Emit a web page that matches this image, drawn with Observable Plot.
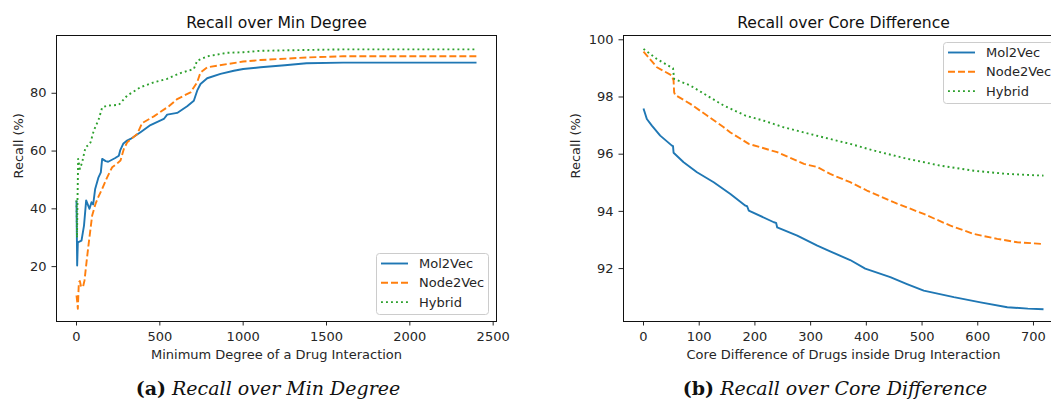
<!DOCTYPE html>
<html>
<head>
<meta charset="utf-8">
<script src="https://cdn.jsdelivr.net/npm/d3@7"></script>
<script src="https://cdn.jsdelivr.net/npm/@observablehq/plot@0.6"></script>
<style>
  html, body { margin: 0; padding: 0; background: #fff; }
  #fig { position: relative; width: 1051px; height: 403px; overflow: hidden; background: #fff; }
  .panel { position: absolute; top: 0; width: 510px; height: 365px; }
  .panel svg { max-width: none !important; }
  .legend { position: absolute; }
  .caption { position: absolute; font-family: "DejaVu Serif", serif; font-size: 19px; color: #111; white-space: nowrap; transform: translateX(-50%); line-height: 1; }
  .caption b { font-weight: bold; }
  .caption i { font-style: italic; }
</style>
</head>
<body>
<div id="fig"></div>
<script>
// ---------- Data ----------
const seriesNames = ["Mol2Vec", "Node2Vec", "Hybrid"];
const seriesColors = ["#1f77b4", "#ff7f0e", "#2ca02c"];

// Panel (a): Recall over Min Degree
const titleA = "Recall over Min Degree";
const xLabelA = "Minimum Degree of a Drug Interaction";
const yLabel = "Recall (%)";
const xTicksA = [0, 500, 1000, 1500, 2000, 2500];
const yTicksA = [20, 40, 60, 80];

const degreeMol2Vec = [0, 4, 8, 30, 45, 58, 78, 90, 100, 112, 132, 146, 154, 175, 190, 230, 254, 262, 280, 300, 324, 384, 444, 524, 544, 604, 664, 704, 724, 744, 784, 864, 944, 1000, 1104, 1250, 1380, 1600, 2400];
const recallMol2VecA = [42.9, 20.4, 28.4, 29, 34.2, 42.9, 40, 42.3, 41.5, 46.9, 50.9, 52.6, 57.3, 56.5, 56.3, 57.5, 58.4, 60.2, 62.5, 63.5, 64.2, 66.5, 69, 71.1, 72.6, 73.2, 75.5, 77.4, 80.9, 83.2, 85.2, 86.7, 87.8, 88.4, 89, 89.7, 90.4, 90.6, 90.6];

const degreeNode2Vec = [0, 4, 8, 14, 20, 28, 40, 48, 60, 74, 94, 114, 134, 154, 184, 214, 240, 264, 284, 304, 364, 394, 464, 554, 604, 684, 724, 744, 784, 904, 1000, 1104, 1384, 1600, 2400];
const recallNode2VecA = [10.0, 8, 5.4, 14.6, 15, 12.9, 13.2, 15.2, 21.5, 28.4, 37.7, 41.7, 44.5, 46.9, 50.9, 54.4, 55.5, 56.7, 60.7, 63, 65.9, 69.7, 72, 75.5, 78, 80.3, 83.8, 87.2, 89, 90.1, 91.0, 91.5, 92.4, 92.8, 92.8];

const degreeHybrid = [0, 3, 6, 10, 20, 34, 54, 70, 84, 104, 134, 154, 184, 254, 304, 384, 464, 544, 624, 704, 724, 784, 904, 1000, 1104, 1384, 1600, 2400];
const recallHybridA = [42.9, 30, 43, 57.3, 53.8, 56.1, 61.3, 62, 63, 67.1, 71.1, 75.1, 75.7, 76, 79.2, 82.1, 83.8, 85, 87, 88.4, 91.3, 92.8, 94, 94.2, 94.7, 95.0, 95.2, 95.2];

// Panel (b): Recall over Core Difference
const titleB = "Recall over Core Difference";
const xLabelB = "Core Difference of Drugs inside Drug Interaction";
const xTicksB = [0, 100, 200, 300, 400, 500, 600, 700];
const yTicksB = [92, 94, 96, 98, 100];

const coreMol2Vec = [0, 6, 15, 30, 51, 53, 54, 72, 96, 126, 156, 183, 186, 189, 234, 238, 240, 276, 312, 335, 371, 398, 443, 473, 503, 557, 605, 653, 690, 718];
const recallMol2VecB = [97.6, 97.23, 97.0, 96.65, 96.3, 96.28, 96.05, 95.72, 95.37, 95.02, 94.61, 94.2, 94.18, 94.03, 93.62, 93.6, 93.44, 93.15, 92.8, 92.6, 92.3, 92.0, 91.7, 91.46, 91.23, 91.0, 90.82, 90.65, 90.6, 90.58];

const coreNode2Vec = [0, 24, 51, 54, 55, 57, 84, 114, 144, 156, 189, 240, 288, 312, 335, 371, 401, 449, 503, 551, 593, 635, 671, 718];
const recallNode2VecB = [99.59, 99.04, 98.75, 98.57, 98.16, 98.07, 97.76, 97.35, 96.94, 96.76, 96.36, 96.07, 95.66, 95.55, 95.31, 95.02, 94.73, 94.32, 93.91, 93.5, 93.21, 93.04, 92.92, 92.86];

const coreHybrid = [0, 24, 53, 55, 84, 114, 144, 183, 216, 252, 288, 335, 371, 413, 473, 533, 593, 653, 718];
const recallHybridB = [99.68, 99.33, 99.0, 98.63, 98.4, 98.05, 97.7, 97.35, 97.17, 96.94, 96.76, 96.53, 96.36, 96.13, 95.84, 95.6, 95.42, 95.31, 95.25];

const captionA = ["(a)", "Recall over Min Degree"];
const captionB = ["(b)", "Recall over Core Difference"];

// ---------- Helpers ----------
const dashes = [null, "7,3", "1.9,3.1"];
const toRows = (xs, ys) => xs.map((x, i) => ({x, y: ys[i]}));

function panel({xs, ys, xDomain, yDomain, xTicks, yTicks, title, xLabel, yLabelDx}) {
  const lines = xs.map((xv, k) => Plot.line(toRows(xv, ys[k]), {
    x: "x", y: "y", stroke: seriesColors[k], strokeWidth: 1.9,
    strokeDasharray: dashes[k], strokeLinejoin: "round", strokeLinecap: "butt"
  }));
  return Plot.plot({
    width: 510, height: 365,
    marginLeft: 56, marginRight: 14, marginTop: 35, marginBottom: 44,
    style: {fontFamily: "'DejaVu Sans', sans-serif", fontSize: "13px", color: "#262626", background: "white", overflow: "visible", maxWidth: "none"},
    x: {domain: xDomain, ticks: xTicks, tickFormat: d3.format("d"), tickSize: 4.5, tickPadding: 5.5, label: null},
    y: {domain: yDomain, ticks: yTicks, tickFormat: d3.format("d"), tickSize: 4.5, tickPadding: 5.5, label: null},
    marks: [
      ...lines,
      Plot.frame({stroke: "#111", strokeWidth: 1}),
      Plot.text([title], {frameAnchor: "top", lineAnchor: "middle", dy: -13, fontSize: 15.6, fill: "#111"}),
      Plot.text([xLabel], {frameAnchor: "bottom", lineAnchor: "middle", dy: 33, fontSize: 13, fill: "#262626"}),
      Plot.text([yLabel], {frameAnchor: "left", lineAnchor: "middle", dx: yLabelDx, rotate: -90, fontSize: 13, fill: "#262626"})
    ]
  });
}

function legend(left, top) {
  const w = 113, h = 62;
  const div = document.createElement("div");
  div.className = "legend";
  div.style.left = left + "px";
  div.style.top = top + "px";
  const svg = d3.create("svg").attr("width", w).attr("height", h)
    .style("font-family", "'DejaVu Sans', sans-serif").style("font-size", "13px");
  svg.append("rect").attr("x", 0.5).attr("y", 0.5).attr("width", w - 1).attr("height", h - 1)
    .attr("rx", 3).attr("fill", "rgba(255,255,255,0.8)").attr("stroke", "#cccccc");
  seriesNames.forEach((name, k) => {
    const cy = 10.5 + k * 19.3;
    svg.append("line").attr("x1", 5).attr("x2", 32).attr("y1", cy).attr("y2", cy)
      .attr("stroke", seriesColors[k]).attr("stroke-width", 1.9)
      .attr("stroke-dasharray", dashes[k]);
    svg.append("text").attr("x", 43).attr("y", cy).attr("dy", "0.35em")
      .attr("fill", "#262626").text(name);
  });
  div.appendChild(svg.node());
  return div;
}

function caption(parts, cx, top) {
  const d = document.createElement("div");
  d.className = "caption";
  d.style.left = cx + "px";
  d.style.top = top + "px";
  d.innerHTML = `<b>${parts[0]}</b> <i>${parts[1]}</i>`;
  return d;
}

// ---------- Build ----------
const fig = document.getElementById("fig");

const chartA = panel({
  xs: [degreeMol2Vec, degreeNode2Vec, degreeHybrid],
  ys: [recallMol2VecA, recallNode2VecA, recallHybridA],
  xDomain: [-120, 2520], yDomain: [1, 100],
  xTicks: xTicksA, yTicks: yTicksA, title: titleA, xLabel: xLabelA, yLabelDx: -37.5
});
const wrapA = document.createElement("div");
wrapA.className = "panel"; wrapA.style.left = "0px";
wrapA.appendChild(chartA);
fig.appendChild(wrapA);

const chartB = panel({
  xs: [coreMol2Vec, coreNode2Vec, coreHybrid],
  ys: [recallMol2VecB, recallNode2VecB, recallHybridB],
  xDomain: [-35.9, 753.9], yDomain: [90.15, 100.15],
  xTicks: xTicksB, yTicks: yTicksB, title: titleB, xLabel: xLabelB, yLabelDx: -48
});
const wrapB = document.createElement("div");
wrapB.className = "panel"; wrapB.style.left = "567px";
wrapB.appendChild(chartB);
fig.appendChild(wrapB);

fig.appendChild(legend(376, 253));
fig.appendChild(legend(943, 42));

fig.appendChild(caption(captionA, 268, 379));
fig.appendChild(caption(captionB, 835, 379));
</script>
</body>
</html>
